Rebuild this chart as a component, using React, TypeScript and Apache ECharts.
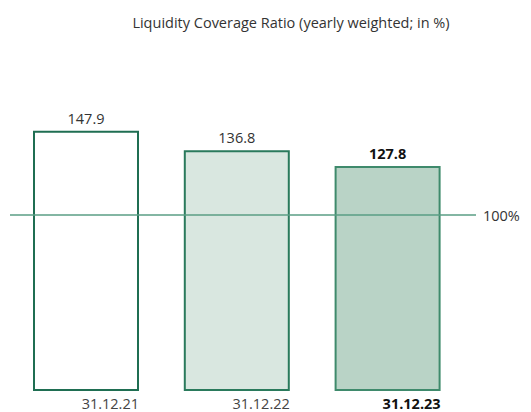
import React, { useEffect, useRef } from "react";
import * as echarts from "echarts";

const categories = ["31.12.21", "31.12.22", "31.12.23"];
const values = [147.9, 136.8, 127.8];
const thresholdValue = 100;
const thresholdLabel = "100%";
const titleText = "Liquidity Coverage Ratio (yearly weighted; in %)";

const fills = ["#ffffff", "#d9e7e0", "#b9d3c6"];
const borders = ["#1f6e52", "#2a7a5c", "#3f8a6c"];
const FONT = "Open Sans";
const FS = 14.5;

export default function App() {
  const ref = useRef<HTMLDivElement>(null);
  useEffect(() => {
    if (!ref.current) return;
    const chart = echarts.init(ref.current, undefined, { renderer: "svg" });
    chart.setOption({
      animation: false,
      textStyle: { fontFamily: FONT },
      title: {
        text: titleText,
        left: 286,
        textAlign: "center",
        top: 10,
        textStyle: { fontSize: FS, fontWeight: "normal", color: "#333", fontFamily: FONT },
      },
      grid: { left: 10.6, right: 68, top: 127, bottom: 21 },
      xAxis: {
        type: "category",
        data: categories,
        axisLine: { show: false },
        axisTick: { show: false },
        axisLabel: {
          margin: 5,
          formatter: (v: string, i: number) => (i === 2 ? `{b|${v}}` : `{a|${v}}`),
          rich: {
            a: { width: 106, align: "right", fontSize: FS, lineHeight: 15, color: "#444", fontFamily: FONT },
            b: { width: 106, align: "right", fontSize: FS, lineHeight: 15, color: "#111", fontWeight: "bold", fontFamily: FONT },
          },
        },
      },
      yAxis: {
        type: "value",
        min: 0,
        max: 150,
        show: false,
        splitLine: { show: false },
      },
      series: [
        {
          type: "bar",
          barWidth: 106,
          data: values.map((v, i) => ({
            value: v,
            itemStyle: { color: fills[i], borderColor: borders[i], borderWidth: 2 },
            label: {
              show: true,
              position: "top",
              distance: 5,
              fontSize: FS,
              fontFamily: FONT,
              color: i === 2 ? "#111" : "#333",
              fontWeight: i === 2 ? "bold" : "normal",
            },
          })),
        },
      ],
    });
    const y = chart.convertToPixel({ yAxisIndex: 0 }, thresholdValue) as number;
    chart.setOption({
      graphic: [
        {
          type: "line",
          shape: { x1: 10, y1: y, x2: 476, y2: y },
          style: { stroke: "#5a9e84", lineWidth: 1.5 },
          z: 100,
        },
        {
          type: "text",
          x: 483,
          y: y,
          style: {
            text: thresholdLabel,
            fontSize: FS,
            fontFamily: FONT,
            fill: "#333",
            verticalAlign: "middle",
            align: "left",
          },
        },
      ],
    });
    return () => chart.dispose();
  }, []);
  return (
    <div
      ref={ref}
      style={{ position: "absolute", left: 0, top: 0, width: 531, height: 412 }}
    />
  );
}
